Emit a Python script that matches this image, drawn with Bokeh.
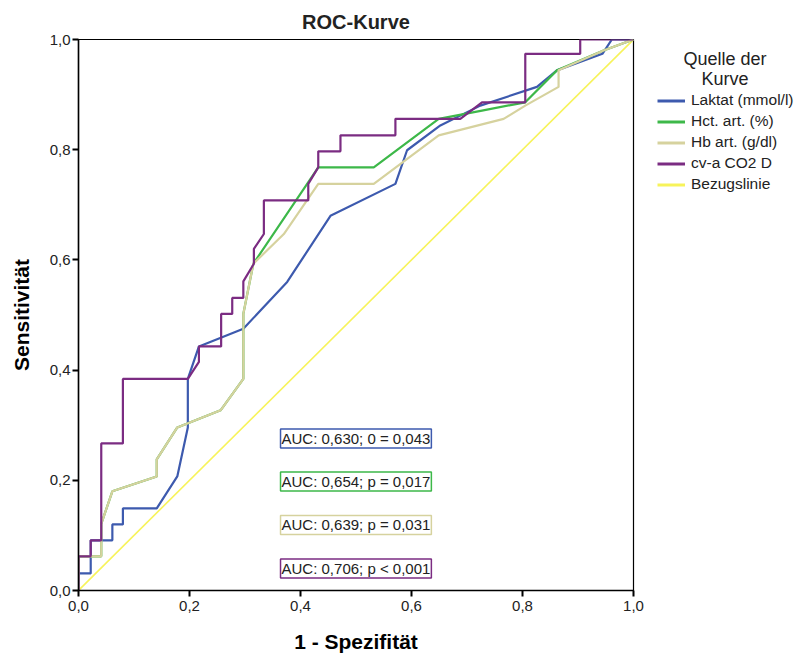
from bokeh.plotting import figure
from bokeh.models import Label, Legend, LegendItem, FixedTicker, CustomJSTickFormatter, Range1d
from bokeh.layouts import row
from bokeh.embed import file_html
from bokeh.resources import INLINE

# ---- data ----
laktat_x = [0, 0, 0.022, 0.022, 0.061, 0.061, 0.080, 0.080, 0.141, 0.178, 0.197, 0.197, 0.217, 0.297, 0.376, 0.454, 0.571, 0.592, 0.652, 0.724, 0.826, 0.862, 0.944, 0.961, 1.0]
laktat_y = [0, 0.031, 0.031, 0.091, 0.091, 0.120, 0.120, 0.149, 0.149, 0.207, 0.296, 0.384, 0.443, 0.475, 0.560, 0.680, 0.738, 0.799, 0.844, 0.880, 0.914, 0.944, 0.974, 1.0, 1.0]

hct_x = [0, 0, 0.041, 0.041, 0.061, 0.141, 0.141, 0.178, 0.256, 0.297, 0.297, 0.315, 0.432, 0.532, 0.649, 0.727, 0.805, 0.862, 0.946, 1.0]
hct_y = [0, 0.062, 0.062, 0.121, 0.180, 0.207, 0.238, 0.296, 0.327, 0.384, 0.502, 0.593, 0.768, 0.768, 0.856, 0.871, 0.886, 0.944, 0.980, 1.0]

hb_x = [0, 0, 0.041, 0.041, 0.061, 0.141, 0.141, 0.178, 0.256, 0.297, 0.297, 0.315, 0.370, 0.432, 0.532, 0.649, 0.766, 0.805, 0.865, 0.865, 0.946, 1.0]
hb_y = [0, 0.062, 0.062, 0.121, 0.180, 0.207, 0.238, 0.296, 0.327, 0.384, 0.502, 0.593, 0.647, 0.738, 0.738, 0.826, 0.856, 0.880, 0.914, 0.944, 0.980, 1.0]

cva_x = [0, 0, 0.022, 0.022, 0.041, 0.041, 0.080, 0.080, 0.197, 0.217, 0.217, 0.257, 0.257, 0.277, 0.277, 0.297, 0.297, 0.316, 0.316, 0.334, 0.334, 0.414, 0.414, 0.432, 0.432, 0.472, 0.472, 0.571, 0.571, 0.688, 0.727, 0.805, 0.805, 0.904, 0.904, 1.0]
cva_y = [0, 0.062, 0.062, 0.091, 0.091, 0.267, 0.267, 0.384, 0.384, 0.415, 0.443, 0.443, 0.502, 0.502, 0.531, 0.531, 0.561, 0.593, 0.620, 0.647, 0.708, 0.708, 0.738, 0.768, 0.797, 0.797, 0.826, 0.826, 0.856, 0.856, 0.886, 0.886, 0.974, 0.974, 1.0, 1.0]

ref_x = [0, 1]
ref_y = [0, 1]

series_names = ["Laktat (mmol/l)", "Hct. art. (%)", "Hb art. (g/dl)", "cv-a CO2 D", "Bezugslinie"]
series_colors = ["#3D5AAE", "#3DB849", "#D6D29E", "#7B2C82", "#F7F35A"]

auc_texts = ["AUC: 0,630; 0 = 0,043", "AUC: 0,654; p = 0,017", "AUC: 0,639; p = 0,031", "AUC: 0,706; p < 0,001"]
auc_y = [0.276, 0.198, 0.119, 0.040]
auc_x = 0.364

ticks = [0, 0.2, 0.4, 0.6, 0.8, 1.0]
legend_title = ["Quelle der", "Kurve"]

FONT = "Liberation Sans"
TXT = "#222222"

# ---- main chart ----
p = figure(width=645, height=658, output_backend="svg", toolbar_location=None,
           x_range=Range1d(0, 1), y_range=Range1d(0, 1),
           min_border_left=78, min_border_right=12, min_border_top=39, min_border_bottom=68)

p.title.text = "ROC-Kurve"
p.title.text_font = FONT
p.title.text_font_size = "20px"
p.title.text_font_style = "bold"
p.title.text_color = TXT
p.title.align = "center"
p.title.offset = 0
p.title.standoff = 14

p.xgrid.visible = False
p.ygrid.visible = False
p.outline_line_color = "black"
p.outline_line_width = 1.2
p.background_fill_color = "white"

fmt = CustomJSTickFormatter(code="return tick.toFixed(1).replace('.', ',');")
for ax in (p.xaxis[0], p.yaxis[0]):
    ax.ticker = FixedTicker(ticks=ticks)
    ax.formatter = fmt
    ax.axis_line_color = "black"
    ax.axis_line_width = 1.5
    ax.major_tick_line_color = "black"
    ax.major_tick_line_width = 2
    ax.major_tick_in = 0
    ax.major_tick_out = 6
    ax.minor_tick_line_color = None
    ax.major_label_text_font = FONT
    ax.major_label_text_font_size = "15px"
    ax.major_label_text_color = TXT
    ax.axis_label_text_font = FONT
    ax.axis_label_text_font_size = "21px"
    ax.axis_label_text_font_style = "bold"
    ax.axis_label_text_color = "black"

p.xaxis.axis_label = "1 - Spezifität"
p.yaxis.axis_label = "Sensitivität"
p.xaxis.major_label_standoff = 4
p.yaxis.major_label_standoff = 2
p.xaxis.axis_label_standoff = 16
p.yaxis.axis_label_standoff = 14

xs = [laktat_x, hct_x, hb_x, cva_x, ref_x]
ys = [laktat_y, hct_y, hb_y, cva_y, ref_y]
for i in [4, 0, 1, 2, 3]:
    w = 2.2 if i < 4 else 1.6
    p.line(xs[i], ys[i], line_color=series_colors[i], line_width=w)

for t, yy, c in zip(auc_texts, auc_y, series_colors[:4]):
    p.add_layout(Label(x=auc_x, y=yy, text=t, text_align="left", text_baseline="middle",
                       text_font=FONT, text_font_size="15px", text_color=TXT,
                       border_line_color=c, border_line_width=1.5,
                       background_fill_color="white", padding=1))

# ---- legend panel (its frame is aligned with the main frame: page y 39..590) ----
q = figure(width=150, height=658, output_backend="svg", toolbar_location=None,
           x_range=Range1d(0, 150), y_range=Range1d(590, 39),
           min_border=0, x_axis_location=None, y_axis_location=None)
q.outline_line_color = None
q.xgrid.visible = False
q.ygrid.visible = False

nan = float("nan")
dummies = [q.line(x=[nan], y=[nan], line_color=c, line_width=3) for c in series_colors]
legend = Legend(items=[LegendItem(label=n, renderers=[r]) for n, r in zip(series_names, dummies)],
                location=(12, 397),
                label_text_font=FONT, label_text_font_size="15.5px", label_text_color=TXT,
                glyph_width=28, glyph_height=17, label_height=17, spacing=3,
                label_standoff=6, padding=0, margin=0,
                border_line_color=None, background_fill_alpha=0)
q.add_layout(legend, "center")

for t, yy in zip(legend_title, [58, 78]):
    q.add_layout(Label(x=79.5, y=yy, text=t, text_align="center", text_baseline="middle",
                       text_font=FONT, text_font_size="18px", text_color=TXT))

layout = row(p, q, spacing=0)
open("out.html", "w").write(file_html(layout, INLINE))
